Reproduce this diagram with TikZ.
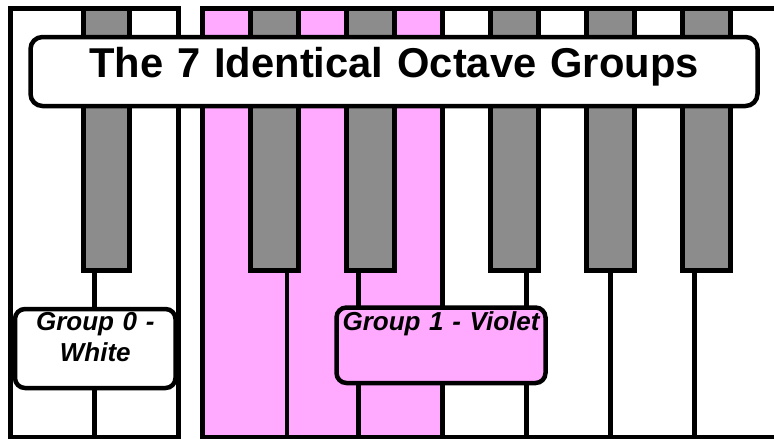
\documentclass[tikz,border=0pt]{standalone}
\usepackage{fontspec}
\setmainfont{Liberation Sans}
\definecolor{violetkey}{RGB}{255,170,255}
\definecolor{keygray}{RGB}{140,140,140}
\begin{document}
\begin{tikzpicture}[x=1pt,y=-1pt,
  keyline/.style={line width=4.5pt, line join=miter},
  blackkey/.style={draw=black, fill=keygray, line width=4.5pt},
  labelbox/.style={draw=black, line width=4.5pt, rounded corners=10pt, inner xsep=0pt, inner ysep=0pt, outer sep=0pt, anchor=north, align=center, font=\bfseries\itshape\fontsize{26}{31}\selectfont},
  titlebox/.style={draw=black, fill=white, line width=4.5pt, rounded corners=12pt, inner xsep=0pt, inner ysep=0pt, outer sep=0pt, anchor=north, align=center, font=\bfseries\fontsize{41.7}{50}\selectfont}]
\useasboundingbox (0,0) rectangle (774,439);
\begin{scope}
\clip (0,0) rectangle (774,439);
% violet group (white keys C, D, E of octave 1)
\fill[violetkey] (202.5,8.5) rectangle (442.5,437);
% white key dividers
\draw[keyline] (94.5,270.5) -- (94.5,437);
\foreach \x in {287,358.5,526.5,610.5,694.5}
  \draw[keyline] (\x,270.5) -- (\x,437);
\draw[keyline] (442.5,8.5) -- (442.5,437);
% black keys
\foreach \a/\b in {83.5/129.5,250.5/298.5,346.5/394.5,490.5/538.5,586.5/634.5,682.5/730.5}
  \draw[blackkey] (\a,8.5) rectangle (\b,270.5);
% keyboard outlines
\draw[keyline] (10.5,8.5) rectangle (178.5,437);
\draw[keyline] (790,8.5) -- (202.5,8.5) -- (202.5,437) -- (790,437);
\end{scope}
% labels
\node[titlebox, text width=727pt, text height=40pt, text depth=29pt] (title) at (394,37) {The 7 Identical Octave Groups};
\node[labelbox, fill=white, text width=160.5pt, text height=21pt, text depth=58pt] (grp0) at (95.25,309) {Group 0 -\\White};
\node[labelbox, fill=violetkey, text width=209pt, text height=22.5pt, text depth=53pt] (grp1) at (441,307.5) {Group 1 - Violet};
\end{tikzpicture}
\end{document}
